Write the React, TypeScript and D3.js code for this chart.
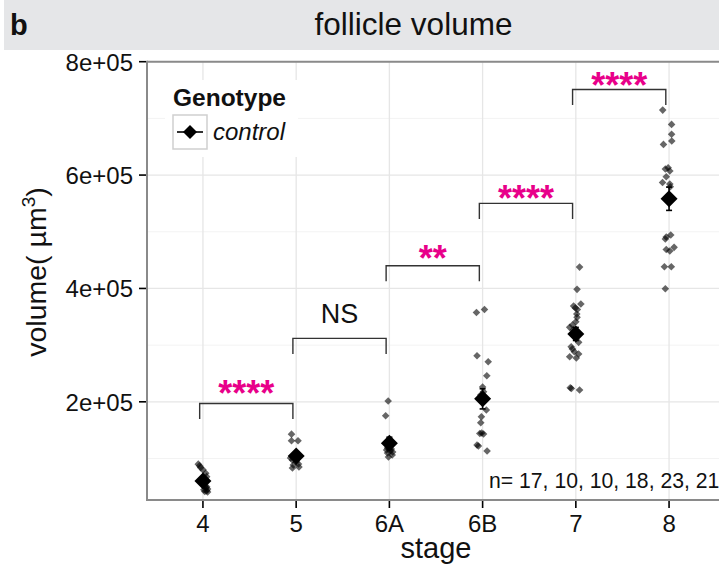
import React from 'react';
import * as d3 from 'd3';

// ---------- data ----------
const stages = ['4', '5', '6A', '6B', '7', '8'];

const vol4 = [90000, 87000, 84000, 80000, 74000, 68000, 62000, 58000, 55000, 52000, 50000, 48000, 46000, 45000, 43000, 42000, 41000];
const jit4 = [-0.05, -0.035, -0.025, 0, 0.03, 0.04, 0.01, -0.025, 0, 0.02, 0.04, 0.03, 0.05, 0.01, 0.04, 0.02, 0.05];

const vol5 = [143000, 131400, 131400, 100900, 97400, 93900, 90300, 88500, 85000, 83200];
const jit5 = [-0.05, -0.05, 0.02, -0.06, -0.04, 0, 0.025, -0.03, 0.03, -0.04];

const vol6A = [201400, 175500, 118500, 116800, 115000, 113200, 111500, 109700, 106200, 102700];
const jit6A = [-0.013, -0.04, -0.02, 0.02, -0.03, 0.01, 0.035, -0.02, 0.03, -0.01];

const vol6B = [357500, 362800, 281300, 270700, 246000, 226100, 217800, 212000, 206700, 185500, 173700, 163100, 145000, 144100, 143200, 123800, 122000, 113200];
const jit6B = [-0.066, 0.02, -0.06, 0.06, 0.045, 0, 0.01, -0.02, 0.02, 0.04, -0.013, -0.02, -0.01, -0.03, 0.01, -0.06, -0.045, 0.048];

const vol7 = [437700, 398400, 372500, 369000, 365400, 362800, 354800, 349000, 341300, 335400, 331400, 326600, 316000, 304900, 297200, 293100, 288400, 284300, 279500, 277200, 224900, 223500, 220800];
const jit7 = [0.04, 0.013, 0.054, -0.024, -0.005, 0.016, 0.01, 0.013, 0, -0.037, -0.066, -0.027, 0.016, 0.03, -0.05, -0.037, -0.016, 0.03, -0.066, 0.005, -0.06, -0.048, 0.04];

const vol8 = [714600, 689400, 672000, 660000, 654100, 612900, 610600, 607100, 597000, 586800, 584100, 579400, 494200, 490700, 487100, 472500, 468600, 466000, 438300, 438300, 399500];
const jit8 = [-0.068, 0.027, 0.027, 0.029, -0.06, -0.01, -0.04, 0.008, -0.03, -0.07, 0.008, 0.013, 0.018, -0.03, -0.04, 0.054, -0.03, 0.008, -0.05, 0.024, -0.04];

const volumes = [vol4, vol5, vol6A, vol6B, vol7, vol8];
const jitters = [jit4, jit5, jit6A, jit6B, jit7, jit8];

const yTicks = [200000, 400000, 600000, 800000];
const yTickLabels = ['2e+05', '4e+05', '6e+05', '8e+05'];
const yMinor = [100000, 300000, 500000, 700000];

const bracketFrom = ['4', '5', '6A', '6B', '7'];
const bracketTo = ['5', '6A', '6B', '7', '8'];
const bracketTop = [197000, 312000, 440000, 550000, 751000];
const bracketLabelY = [227900, 356600, 466300, 572100, 771400];
const bracketLabels = ['****', 'NS', '**', '****', '****'];
const bracketDrop = 27500;

const panelTitle = 'follicle volume';
const panelTag = 'b';
const xTitle = 'stage';
const legendTitle = 'Genotype';
const legendLabel = 'control';
const nText = 'n= 17, 10, 10, 18, 23, 21';

// ---------- component ----------
const FONT = "'Liberation Sans', Arial, Helvetica, sans-serif";
const MAGENTA = '#e8008a';

function diamond(cx: number, cy: number, r: number) {
  return `M${cx},${cy - r}L${cx + r},${cy}L${cx},${cy + r}L${cx - r},${cy}Z`;
}

export default function App() {
  const W = 719, H = 569;
  const left = 147, top = 61.7, bottom = 500, right = 725;

  const x = d3.scalePoint<string>().domain(stages).range([left, right]).padding(0.6);
  const step = x.step();
  const y = d3.scaleLinear().domain([26800, 800000]).range([bottom, top]);

  const groups = stages.map((s, i) => {
    const vals = volumes[i];
    const m = d3.mean(vals) as number;
    const se = (d3.deviation(vals) as number) / Math.sqrt(vals.length);
    return { s, vals, jit: jitters[i], m, se };
  });

  const bOff = -0.035 * step;

  return (
    <svg width={W} height={H} style={{ position: 'absolute', left: 0, top: 0, background: '#fff' }} fontFamily={FONT}>
      <rect x={0} y={0} width={W} height={H} fill="#fff" />
      {/* strip */}
      <rect x={4} y={0} width={W - 4} height={50} fill="#e5e6e8" />
      <text x={10} y={35} fontSize={29} fontWeight="bold" fill="#111">{panelTag}</text>
      <text x={413.5} y={35} fontSize={31.5} textAnchor="middle" fill="#111">{panelTitle}</text>

      {/* grid */}
      {yMinor.map((v) => (
        <line key={'mn' + v} x1={left} x2={right} y1={y(v)} y2={y(v)} stroke="#f3f3f3" strokeWidth={1} />
      ))}
      {yTicks.map((v) => (
        <line key={'mj' + v} x1={left} x2={right} y1={y(v)} y2={y(v)} stroke="#e6e6e6" strokeWidth={1.3} />
      ))}
      {stages.map((s) => (
        <line key={'vx' + s} x1={x(s)} x2={x(s)} y1={top} y2={bottom} stroke="#e6e6e6" strokeWidth={1.3} />
      ))}

      {/* points */}
      {groups.map((g) =>
        g.vals.map((v, j) => (
          <path key={g.s + '-' + j} d={diamond((x(g.s) as number) + g.jit[j] * step, y(v), 3.8)} fill="#000" fillOpacity={0.6} />
        ))
      )}
      {/* means + se */}
      {groups.map((g) => {
        const cx = x(g.s) as number;
        return (
          <g key={'m' + g.s}>
            <line x1={cx} x2={cx} y1={y(g.m - g.se)} y2={y(g.m + g.se)} stroke="#000" strokeWidth={1.6} />
            <line x1={cx - 3} x2={cx + 3} y1={y(g.m - g.se)} y2={y(g.m - g.se)} stroke="#000" strokeWidth={1.6} />
            <line x1={cx - 3} x2={cx + 3} y1={y(g.m + g.se)} y2={y(g.m + g.se)} stroke="#000" strokeWidth={1.6} />
            <path d={diamond(cx, y(g.m), 8.5)} fill="#000" />
          </g>
        );
      })}

      {/* significance brackets */}
      {bracketFrom.map((f, i) => {
        const x1 = (x(f) as number) + bOff;
        const x2 = (x(bracketTo[i]) as number) + bOff;
        const yt = y(bracketTop[i]);
        const yb = y(bracketTop[i] - bracketDrop);
        const isNS = bracketLabels[i] === 'NS';
        const ly = y(bracketLabelY[i]);
        return (
          <g key={'br' + i}>
            <path d={`M${x1},${yb}V${yt}H${x2}V${yb}`} fill="none" stroke="#333" strokeWidth={1.4} />
            {isNS ? (
              <text x={(x1 + x2) / 2} y={ly + 10} fontSize={27} textAnchor="middle" fill="#111">{bracketLabels[i]}</text>
            ) : (
              <text x={(x1 + x2) / 2} y={ly + 20} fontSize={36} fontWeight="bold" textAnchor="middle" fill={MAGENTA}>{bracketLabels[i]}</text>
            )}
          </g>
        );
      })}

      {/* n text */}
      <text x={489} y={488} fontSize={21.2} fill="#111">{nText}</text>

      {/* legend */}
      <rect x={165} y={80} width={133} height={77} fill="#fff" />
      <text x={173} y={106} fontSize={24.5} fontWeight="bold" fill="#111">{legendTitle}</text>
      <rect x={173} y={115} width={34} height={34} fill="#fff" stroke="#cfcfcf" strokeWidth={1.5} />
      <line x1={177} x2={203} y1={132} y2={132} stroke="#000" strokeWidth={1.6} />
      <path d={diamond(190, 132, 7)} fill="#000" />
      <text x={213} y={140} fontSize={24} fontStyle="italic" fill="#111">{legendLabel}</text>

      {/* panel border / axes */}
      <line x1={left} x2={right} y1={top} y2={top} stroke="#8a8a8a" strokeWidth={2} />
      <line x1={left} x2={left} y1={top - 1} y2={bottom + 1} stroke="#8a8a8a" strokeWidth={2} />
      <line x1={left} x2={right} y1={bottom} y2={bottom} stroke="#8a8a8a" strokeWidth={2} />

      {/* y axis */}
      {yTicks.map((v, i) => (
        <g key={'yt' + v}>
          <line x1={139} x2={left - 1} y1={y(v)} y2={y(v)} stroke="#000" strokeWidth={1.6} />
          <text x={133} y={y(v) + 9} fontSize={24} textAnchor="end" fill="#111">{yTickLabels[i]}</text>
        </g>
      ))}
      {/* x axis */}
      {stages.map((s) => (
        <g key={'xt' + s}>
          <line x1={x(s)} x2={x(s)} y1={bottom + 1} y2={bottom + 8} stroke="#000" strokeWidth={1.6} />
          <text x={x(s)} y={532} fontSize={24} textAnchor="middle" fill="#111">{s}</text>
        </g>
      ))}

      {/* axis titles */}
      <text x={(left + right) / 2} y={558} fontSize={29} textAnchor="middle" fill="#111">{xTitle}</text>
      <text transform="translate(46,272) rotate(-90)" fontSize={28.5} textAnchor="middle" fill="#111">
        volume( µm<tspan dy={-11} fontSize={19}>3</tspan><tspan dy={11}>)</tspan>
      </text>
    </svg>
  );
}
